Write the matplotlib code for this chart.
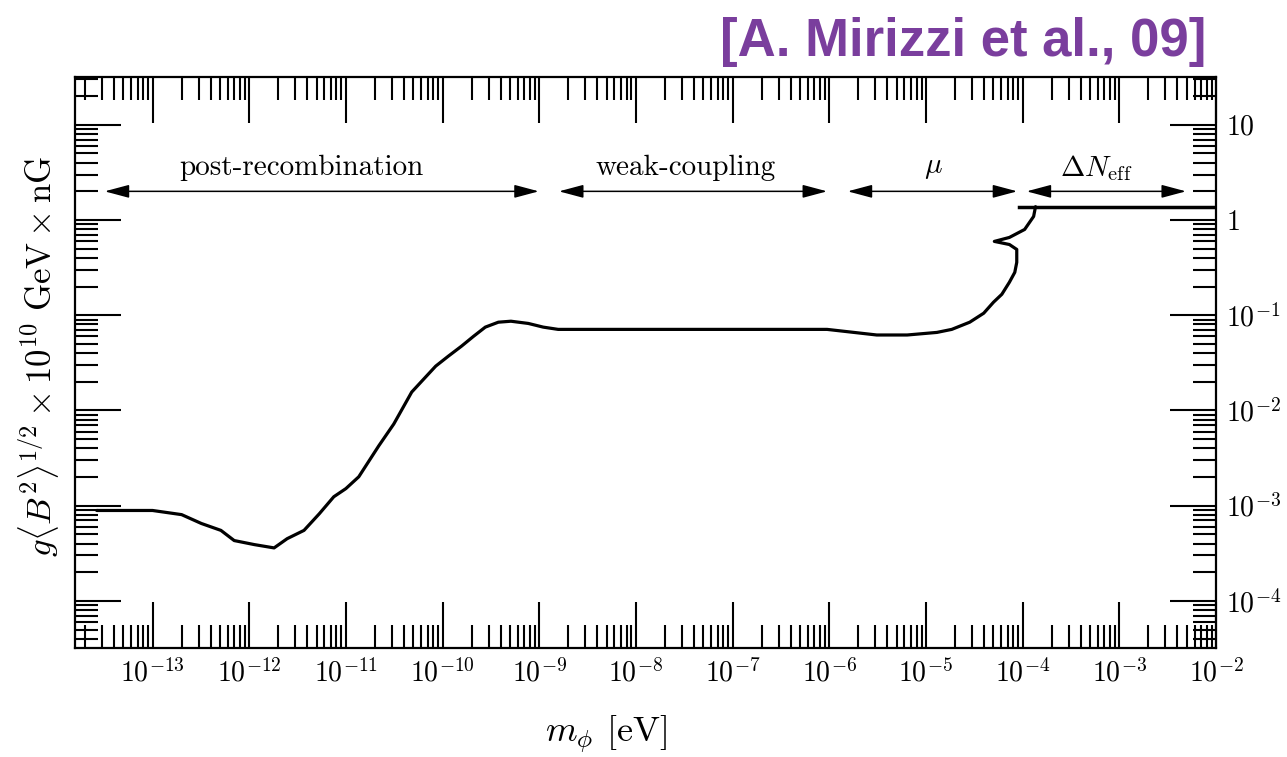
import matplotlib
matplotlib.use("Agg")
import matplotlib.pyplot as plt
from matplotlib.ticker import FixedLocator, FixedFormatter, LogLocator, NullFormatter

plt.rcParams['mathtext.fontset'] = 'cm'
plt.rcParams['font.family'] = ['cmr10', 'DejaVu Serif']
plt.rcParams['axes.unicode_minus'] = False

# bound curve (m_phi in eV, coupling x field)
m_phi = [2.65e-14, 1.0e-13, 2.0e-13, 3.2e-13, 5.1e-13, 7.0e-13, 1.13e-12, 1.81e-12,
         2.47e-12, 3.69e-12, 5.3e-12, 7.5e-12, 1.0e-11, 1.36e-11, 2.19e-11, 3.13e-11,
         4.8e-11, 6.4e-11, 8.5e-11, 1.15e-10, 1.57e-10, 2.09e-10, 2.77e-10, 3.78e-10,
         5.1e-10, 7.7e-10, 1.1e-9, 1.57e-9, 9.5e-7, 3.1e-6, 6.4e-6, 1.30e-5, 1.85e-5,
         2.84e-5, 3.96e-5, 5.0e-5, 6.1e-5, 7.3e-5, 8.3e-5, 8.7e-5, 8.7e-5, 7.3e-5,
         5.1e-5, 7.3e-5, 1.05e-4, 1.30e-4, 1.36e-4]
g_B = [8.9e-4, 8.9e-4, 8.05e-4, 6.5e-4, 5.5e-4, 4.3e-4, 3.9e-4, 3.6e-4,
       4.5e-4, 5.5e-4, 8.2e-4, 1.24e-3, 1.51e-3, 2.01e-3, 4.25e-3, 7.2e-3,
       1.56e-2, 2.14e-2, 2.92e-2, 3.72e-2, 4.73e-2, 6.0e-2, 7.5e-2, 8.45e-2,
       8.65e-2, 8.2e-2, 7.5e-2, 7.1e-2, 7.1e-2, 6.2e-2, 6.2e-2, 6.6e-2, 7.1e-2,
       8.45e-2, 0.105, 0.137, 0.166, 0.222, 0.282, 0.359, 0.491, 0.553,
       0.596, 0.656, 0.796, 1.09, 1.38]

# Delta N_eff flat bound
neff_x = [9.1e-5, 1e-2]
neff_y = [1.38, 1.38]

# regime arrows
regions = ['post-recombination', 'weak-coupling', r'$\mu$', r'$\Delta N_{\rm eff}$']
reg_start = [3.2e-14, 1.6e-9, 1.55e-6, 1.1e-4]
reg_end = [9.9e-10, 9.5e-7, 8.8e-5, 4.9e-3]
reg_label_x = [3.5e-12, 3.3e-8, 1.2e-5, 5.8e-4]
arrow_y = 2.0
label_y = 3.5

xticks = [1e-13, 1e-12, 1e-11, 1e-10, 1e-9, 1e-8, 1e-7, 1e-6, 1e-5, 1e-4, 1e-3, 1e-2]
xlabels = [r'$10^{-13}$', r'$10^{-12}$', r'$10^{-11}$', r'$10^{-10}$', r'$10^{-9}$',
           r'$10^{-8}$', r'$10^{-7}$', r'$10^{-6}$', r'$10^{-5}$', r'$10^{-4}$',
           r'$10^{-3}$', r'$10^{-2}$']
yticks = [1e-4, 1e-3, 1e-2, 1e-1, 1, 10]
ylabels = [r'$10^{-4}$', r'$10^{-3}$', r'$10^{-2}$', r'$10^{-1}$', r'$1$', r'$10$']

fig = plt.figure(figsize=(12.87, 7.57), dpi=100)
ax = fig.add_axes([0.0583, 0.144, 0.8865, 0.754])

ax.plot(m_phi, g_B, color='k', lw=2.3, solid_joinstyle='round', solid_capstyle='round')
ax.plot(neff_x, neff_y, color='k', lw=2.5)

ax.set_xscale('log')
ax.set_yscale('log')
ax.set_xlim(1.58e-14, 1e-2)
ax.set_ylim(3.2e-5, 31.6)

for name, x0, x1, xl in zip(regions, reg_start, reg_end, reg_label_x):
    ax.annotate('', xy=(x1, arrow_y), xytext=(x0, arrow_y),
                arrowprops=dict(arrowstyle='<|-|>,head_length=0.75,head_width=0.2',
                                color='k', lw=1.1, shrinkA=0, shrinkB=0,
                                mutation_scale=20))
    ax.text(xl, label_y, name, ha='center', va='center', fontsize=21)

# ticks
ax.xaxis.set_major_locator(FixedLocator(xticks))
ax.xaxis.set_major_formatter(FixedFormatter(xlabels))
ax.xaxis.set_minor_locator(LogLocator(base=10, subs=range(2, 10), numticks=40))
ax.xaxis.set_minor_formatter(NullFormatter())
ax.yaxis.set_major_locator(FixedLocator(yticks))
ax.yaxis.set_major_formatter(FixedFormatter(ylabels))
ax.yaxis.set_minor_locator(LogLocator(base=10, subs=range(2, 10), numticks=40))
ax.yaxis.set_minor_formatter(NullFormatter())

ax.tick_params(which='both', direction='in', top=True, right=True,
               labelleft=False, labelright=True, width=1.5, labelsize=20)
ax.tick_params(which='major', length=33)
ax.tick_params(which='minor', length=16.5)
ax.tick_params(axis='x', pad=8)
ax.tick_params(axis='y', pad=7)
for s in ax.spines.values():
    s.set_linewidth(1.6)

ax.set_xlabel(r'$m_\phi$ [eV]', fontsize=26)
ax.xaxis.set_label_coords(0.465, -0.115)
ax.set_ylabel(r'$g\langle B^2\rangle^{1/2}\times 10^{10}\ \mathrm{GeV}\times\mathrm{nG}$',
              fontsize=25)
ax.yaxis.set_label_coords(-0.012, 0.51)

fig.text(0.937, 0.978, '[A. Mirizzi et al., 09]', ha='right', va='top',
         fontsize=38, fontweight='bold', color='#7a3e9d',
         family=['Liberation Sans', 'DejaVu Sans'])

fig.savefig('out.png', dpi=100)
